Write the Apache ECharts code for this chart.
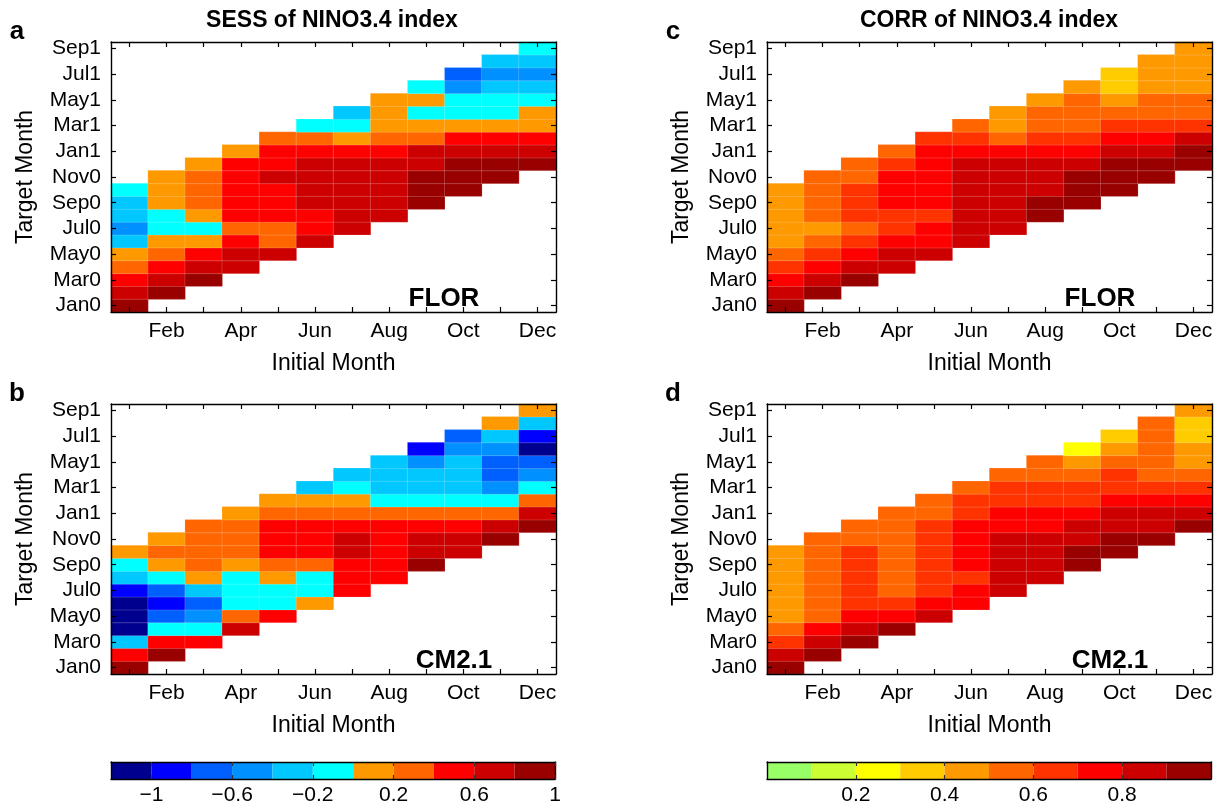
<!DOCTYPE html>
<html>
<head>
<meta charset="utf-8">
<script src="https://cdn.jsdelivr.net/npm/echarts@6/dist/echarts.min.js"></script>
<style>
  html, body { margin: 0; padding: 0; background: #fff; }
  #chart { width: 1216px; height: 811px; }
</style>
</head>
<body>
<div id="chart"></div>
<script>
const initialMonths = ['Jan', 'Feb', 'Mar', 'Apr', 'May', 'Jun', 'Jul', 'Aug', 'Sep', 'Oct', 'Nov', 'Dec'];
const targetMonths = ['Jan0', 'Feb0', 'Mar0', 'Apr0', 'May0', 'Jun0', 'Jul0', 'Aug0', 'Sep0', 'Oct0', 'Nov0', 'Dec0',
  'Jan1', 'Feb1', 'Mar1', 'Apr1', 'May1', 'Jun1', 'Jul1', 'Aug1', 'Sep1'];

// one row per initial month, lead 0..9 (target month = initial month + lead)
const sessFlor = [
  [0.9, 0.7, 0.5, 0.3, 0.1, -0.3, -0.5, -0.3, -0.3, -0.1],
  [0.9, 0.7, 0.5, 0.3, 0.1, -0.1, -0.1, 0.1, 0.1, 0.1],
  [0.9, 0.7, 0.5, 0.1, -0.1, 0.1, 0.3, 0.3, 0.3, 0.1],
  [0.7, 0.7, 0.5, 0.3, 0.5, 0.5, 0.5, 0.5, 0.5, 0.1],
  [0.7, 0.3, 0.3, 0.5, 0.5, 0.5, 0.7, 0.5, 0.5, 0.3],
  [0.7, 0.5, 0.5, 0.7, 0.7, 0.7, 0.7, 0.5, 0.3, -0.1],
  [0.7, 0.7, 0.7, 0.7, 0.7, 0.7, 0.5, 0.1, -0.1, -0.3],
  [0.7, 0.7, 0.7, 0.7, 0.7, 0.5, 0.3, 0.1, 0.1, 0.1],
  [0.9, 0.9, 0.9, 0.7, 0.7, 0.3, 0.1, -0.1, 0.1, -0.1],
  [0.9, 0.9, 0.9, 0.7, 0.5, 0.1, -0.1, -0.1, -0.5, -0.7],
  [0.9, 0.9, 0.7, 0.5, 0.1, -0.1, -0.1, -0.3, -0.5, -0.3],
  [0.9, 0.7, 0.5, 0.1, 0.1, -0.1, -0.3, -0.5, -0.3, -0.1]
];
const sessCm21 = [
  [0.9, 0.5, -0.3, -1.1, -1.1, -1.1, -0.9, -0.3, -0.1, 0.1],
  [0.9, 0.5, -0.1, -0.7, -0.9, -0.7, -0.1, 0.1, 0.3, 0.1],
  [0.5, -0.1, -0.5, -0.7, -0.3, 0.1, 0.3, 0.3, 0.3, 0.3],
  [0.7, 0.3, -0.1, -0.1, -0.1, 0.1, 0.3, 0.3, 0.3, 0.1],
  [0.5, -0.1, -0.1, 0.1, 0.3, 0.5, 0.5, 0.5, 0.3, 0.1],
  [0.1, -0.1, -0.1, 0.3, 0.5, 0.5, 0.5, 0.3, 0.1, -0.3],
  [0.5, 0.5, 0.5, 0.7, 0.7, 0.5, 0.3, 0.1, -0.1, -0.3],
  [0.5, 0.5, 0.5, 0.5, 0.5, 0.3, -0.1, -0.3, -0.3, -0.3],
  [0.9, 0.7, 0.7, 0.5, 0.3, -0.1, -0.3, -0.3, -0.5, -0.9],
  [0.7, 0.7, 0.5, 0.3, -0.1, -0.3, -0.3, -0.3, -0.5, -0.7],
  [0.9, 0.7, 0.3, -0.1, -0.5, -0.7, -0.7, -0.5, -0.3, 0.1],
  [0.9, 0.7, 0.3, -0.1, -0.5, -0.7, -1.1, -0.9, -0.3, 0.1]
];
const corrFlor = [
  [0.95, 0.85, 0.75, 0.65, 0.55, 0.45, 0.45, 0.45, 0.45, 0.45],
  [0.95, 0.85, 0.75, 0.65, 0.55, 0.45, 0.55, 0.55, 0.55, 0.55],
  [0.95, 0.85, 0.75, 0.65, 0.55, 0.65, 0.65, 0.65, 0.55, 0.55],
  [0.85, 0.85, 0.75, 0.65, 0.65, 0.75, 0.75, 0.75, 0.65, 0.55],
  [0.85, 0.75, 0.75, 0.65, 0.75, 0.75, 0.75, 0.75, 0.75, 0.65],
  [0.85, 0.85, 0.85, 0.85, 0.85, 0.85, 0.85, 0.75, 0.65, 0.55],
  [0.85, 0.85, 0.85, 0.85, 0.85, 0.85, 0.75, 0.55, 0.45, 0.45],
  [0.95, 0.95, 0.85, 0.85, 0.85, 0.75, 0.65, 0.55, 0.55, 0.45],
  [0.95, 0.95, 0.95, 0.85, 0.75, 0.65, 0.55, 0.55, 0.55, 0.45],
  [0.95, 0.95, 0.95, 0.85, 0.75, 0.65, 0.55, 0.45, 0.35, 0.35],
  [0.95, 0.95, 0.85, 0.75, 0.65, 0.55, 0.55, 0.45, 0.45, 0.45],
  [0.95, 0.95, 0.85, 0.65, 0.55, 0.55, 0.45, 0.45, 0.45, 0.45]
];
const corrCm21 = [
  [0.95, 0.85, 0.65, 0.55, 0.45, 0.45, 0.45, 0.45, 0.45, 0.45],
  [0.95, 0.85, 0.75, 0.55, 0.55, 0.55, 0.55, 0.55, 0.55, 0.55],
  [0.95, 0.85, 0.75, 0.65, 0.65, 0.65, 0.65, 0.65, 0.55, 0.55],
  [0.95, 0.75, 0.65, 0.55, 0.55, 0.55, 0.55, 0.55, 0.55, 0.55],
  [0.85, 0.75, 0.65, 0.65, 0.65, 0.65, 0.65, 0.65, 0.55, 0.55],
  [0.75, 0.75, 0.65, 0.75, 0.75, 0.75, 0.75, 0.65, 0.65, 0.55],
  [0.85, 0.85, 0.85, 0.85, 0.85, 0.75, 0.75, 0.65, 0.65, 0.55],
  [0.85, 0.85, 0.85, 0.85, 0.75, 0.75, 0.65, 0.65, 0.55, 0.55],
  [0.95, 0.95, 0.85, 0.85, 0.75, 0.65, 0.65, 0.55, 0.45, 0.25],
  [0.95, 0.95, 0.85, 0.85, 0.75, 0.65, 0.65, 0.55, 0.45, 0.35],
  [0.95, 0.85, 0.85, 0.75, 0.65, 0.55, 0.55, 0.55, 0.55, 0.55],
  [0.95, 0.85, 0.75, 0.65, 0.55, 0.45, 0.45, 0.35, 0.35, 0.45]
];

// colour scales (bin edges + one colour per bin)
const sessEdges = [-1.2, -1.0, -0.8, -0.6, -0.4, -0.2, 0, 0.2, 0.4, 0.6, 0.8, 1.0];
const sessColors = ['#00008f', '#0000ff', '#0060ff', '#0090ff', '#00c8ff', '#00ffff',
  '#ff9900', '#ff6600', '#ff0000', '#cc0000', '#990000'];
const sessTicks = [-1, -0.6, -0.2, 0.2, 0.6, 1];
const corrEdges = [0, 0.1, 0.2, 0.3, 0.4, 0.5, 0.6, 0.7, 0.8, 0.9, 1.0];
const corrColors = ['#99ff66', '#ccff33', '#ffff00', '#ffcc00', '#ff9900',
  '#ff6600', '#ff3300', '#ff0000', '#cc0000', '#990000'];
const corrTicks = [0.2, 0.4, 0.6, 0.8];

const FONT = '"Liberation Sans", Arial, Helvetica, sans-serif';
const PW = 445, PH = 270;

const panels = [
  { values: sessFlor, left: 111, top: 42, model: 'FLOR', letter: 'a' },
  { values: sessCm21, left: 111, top: 404, model: 'CM2.1', letter: 'b' },
  { values: corrFlor, left: 767, top: 42, model: 'FLOR', letter: 'c' },
  { values: corrCm21, left: 767, top: 404, model: 'CM2.1', letter: 'd' }
];

function toCells(values) {
  const cells = [];
  values.forEach((col, c) => {
    col.forEach((v, k) => cells.push([c, c + k, v]));
  });
  return cells;
}

const boxLine = { show: true, onZero: false, lineStyle: { color: '#000', width: 1.4 } };
const tickIn = { show: true, inside: true, length: 5, alignWithLabel: true, lineStyle: { color: '#000', width: 1.2 } };

const grid = [];
const xAxis = [];
const yAxis = [];
const series = [];
const graphic = [];

panels.forEach((p, i) => {
  grid.push({ left: p.left, top: p.top, width: PW, height: PH, containLabel: false });
  xAxis.push({
    type: 'category', gridIndex: i, data: initialMonths, position: 'bottom', z: 10,
    axisLine: boxLine, axisTick: Object.assign({}, tickIn, { interval: 0 }),
    axisLabel: { interval: idx => idx % 2 === 1, color: '#000', fontSize: 21, fontFamily: FONT, margin: 9 },
    splitLine: { show: false },
    name: 'Initial Month', nameLocation: 'middle', nameGap: 40,
    nameTextStyle: { color: '#000', fontSize: 23, fontFamily: FONT }
  });
  xAxis.push({
    type: 'category', gridIndex: i, data: initialMonths, position: 'top', z: 10,
    axisLine: boxLine, axisTick: Object.assign({}, tickIn, { interval: 0 }),
    axisLabel: { show: false }, splitLine: { show: false }
  });
  yAxis.push({
    type: 'category', gridIndex: i, data: targetMonths, position: 'left', z: 10,
    axisLine: boxLine, axisTick: Object.assign({}, tickIn, { interval: idx => idx % 2 === 0 }),
    axisLabel: { interval: idx => idx % 2 === 0, color: '#000', fontSize: 21, fontFamily: FONT, margin: 10 },
    splitLine: { show: false },
    name: 'Target Month', nameLocation: 'middle', nameGap: 74, nameRotate: 90,
    nameTextStyle: { color: '#000', fontSize: 23, fontFamily: FONT }
  });
  yAxis.push({
    type: 'category', gridIndex: i, data: targetMonths, position: 'right', z: 10,
    axisLine: boxLine, axisTick: Object.assign({}, tickIn, { interval: idx => idx % 2 === 0 }),
    axisLabel: { show: false }, splitLine: { show: false }
  });
  series.push({
    type: 'heatmap', xAxisIndex: 2 * i, yAxisIndex: 2 * i,
    data: toCells(p.values),
    itemStyle: { borderColor: 'rgba(255,255,255,0.3)', borderWidth: 0.6 },
    emphasis: { disabled: true }
  });
  graphic.push({
    type: 'text', x: p.left - 94, y: p.top - 10,
    style: { text: p.letter, font: 'bold 26px ' + FONT, fill: '#000', align: 'center', verticalAlign: 'middle' }
  });
  graphic.push({
    type: 'text', x: p.left + (p.model === 'FLOR' ? 333 : 343), y: p.top + PH - 13,
    style: { text: p.model, font: 'bold 26px ' + FONT, fill: '#000', align: 'center', verticalAlign: 'middle' }
  });
});

// colour bars
const bars = [
  { edges: sessEdges, colors: sessColors, ticks: sessTicks, left: 111 },
  { edges: corrEdges, colors: corrColors, ticks: corrTicks, left: 767 }
];
bars.forEach((b, j) => {
  const gi = 4 + j;
  grid.push({ left: b.left, top: 762, width: 444, height: 17 });
  const lo = b.edges[0], hi = b.edges[b.edges.length - 1];
  const fmt = v => String(+v.toFixed(1)).replace('-', '\u2212');
  xAxis.push({
    type: 'value', gridIndex: gi, min: lo, max: hi, position: 'bottom', z: 10,
    axisLine: boxLine, splitLine: { show: false },
    axisTick: { show: true, inside: true, length: 4, customValues: b.ticks, lineStyle: { color: '#333', width: 1.2 } },
    axisLabel: { customValues: b.ticks, formatter: fmt, color: '#000', fontSize: 21, fontFamily: FONT, margin: 6 }
  });
  xAxis.push({
    type: 'value', gridIndex: gi, min: lo, max: hi, position: 'top', z: 10,
    axisLine: boxLine, splitLine: { show: false },
    axisTick: { show: true, inside: true, length: 4, customValues: b.ticks, lineStyle: { color: '#333', width: 1.2 } },
    axisLabel: { show: false }
  });
  yAxis.push({
    type: 'value', gridIndex: gi, min: 0, max: 1, position: 'left', z: 10,
    axisLine: boxLine, axisTick: { show: false }, axisLabel: { show: false }, splitLine: { show: false }
  });
  yAxis.push({
    type: 'value', gridIndex: gi, min: 0, max: 1, position: 'right', z: 10,
    axisLine: boxLine, axisTick: { show: false }, axisLabel: { show: false }, splitLine: { show: false }
  });
  const binData = b.colors.map((c, k) => [b.edges[k], b.edges[k + 1]]);
  series.push({
    type: 'custom', xAxisIndex: 8 + 2 * j, yAxisIndex: 8 + 2 * j,
    data: binData, encode: { x: [0, 1] }, silent: true,
    renderItem: (params, api) => {
      const a = api.coord([api.value(0), 1]);
      const z = api.coord([api.value(1), 0]);
      return {
        type: 'rect',
        shape: { x: a[0], y: a[1], width: z[0] - a[0], height: z[1] - a[1] },
        style: { fill: b.colors[params.dataIndex] }
      };
    }
  });
});

// panel titles
graphic.push({
  type: 'text', x: 332, y: 21,
  style: { text: 'SESS of NINO3.4 index', font: 'bold 23px ' + FONT, fill: '#000', align: 'center', verticalAlign: 'middle' }
});
graphic.push({
  type: 'text', x: 989, y: 21,
  style: { text: 'CORR of NINO3.4 index', font: 'bold 23px ' + FONT, fill: '#000', align: 'center', verticalAlign: 'middle' }
});

const visualMap = [
  {
    type: 'piecewise', show: false, seriesIndex: [0, 1], dimension: 2,
    pieces: sessColors.map((c, k) => ({ gte: sessEdges[k], lt: sessEdges[k + 1], color: c }))
  },
  {
    type: 'piecewise', show: false, seriesIndex: [2, 3], dimension: 2,
    pieces: corrColors.map((c, k) => ({ gte: corrEdges[k], lt: corrEdges[k + 1], color: c }))
  }
];

const chart = echarts.init(document.getElementById('chart'));
chart.setOption({
  backgroundColor: '#fff',
  animation: false,
  textStyle: { fontFamily: FONT },
  grid, xAxis, yAxis, visualMap, series, graphic
});
</script>
</body>
</html>
